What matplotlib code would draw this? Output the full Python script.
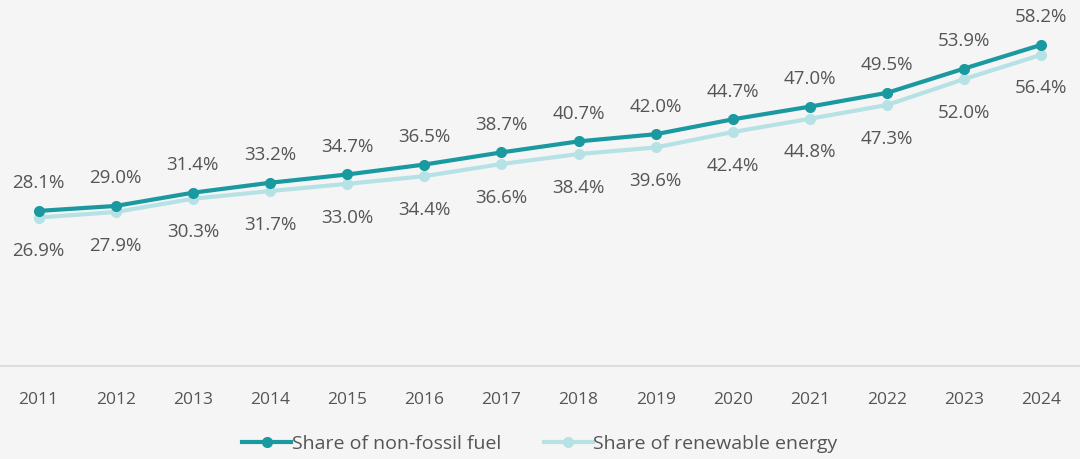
import matplotlib.pyplot as plt

plt.rcParams['font.family'] = ['Open Sans', 'DejaVu Sans']

years = [2011, 2012, 2013, 2014, 2015, 2016, 2017, 2018, 2019, 2020, 2021, 2022, 2023, 2024]
non_fossil = [28.1, 29.0, 31.4, 33.2, 34.7, 36.5, 38.7, 40.7, 42.0, 44.7, 47.0, 49.5, 53.9, 58.2]
renewable = [26.9, 27.9, 30.3, 31.7, 33.0, 34.4, 36.6, 38.4, 39.6, 42.4, 44.8, 47.3, 52.0, 56.4]

dark = '#1a9aa0'
light = '#b6e2e6'
text_color = '#555555'
bg = '#f5f5f5'

fig = plt.figure(figsize=(10.8, 4.6), dpi=100, facecolor=bg)
ax = fig.add_axes([0.0, 0.2022, 1.0, 0.7978], facecolor=bg)

ax.plot(years, renewable, color=light, lw=3, marker='o', ms=7, label='Share of renewable energy', zorder=2)
ax.plot(years, non_fossil, color=dark, lw=3, marker='o', ms=7, label='Share of non-fossil fuel', zorder=3)

for x, y in zip(years, non_fossil):
    ax.annotate(f'{y:.1f}%', (x, y), xytext=(0, 20.5), textcoords='offset points',
                ha='center', va='center', fontsize=13.5, color=text_color)
for x, y in zip(years, renewable):
    ax.annotate(f'{y:.1f}%', (x, y), xytext=(0, -23.5), textcoords='offset points',
                ha='center', va='center', fontsize=13.5, color=text_color)

ax.set_xlim(2010.5, 2024.5)
ax.set_ylim(0, 66.5)
ax.set_xticks(years)
ax.set_xticklabels([str(y) for y in years])
ax.set_yticks([])
ax.tick_params(axis='x', length=0, pad=18, labelsize=12.5, labelcolor=text_color)
for side in ['top', 'left', 'right']:
    ax.spines[side].set_visible(False)
ax.spines['bottom'].set_color('#d9d9d9')
ax.spines['bottom'].set_linewidth(1.2)

handles, labels = ax.get_legend_handles_labels()
leg = fig.legend(handles[::-1], labels[::-1], loc='center', bbox_to_anchor=(0.5, 0.034), ncol=2,
                 frameon=False, fontsize=14, labelcolor=text_color, handlelength=2.5,
                 handletextpad=0.05, columnspacing=2.2)

fig.savefig('out.png', dpi=100, facecolor=bg)
